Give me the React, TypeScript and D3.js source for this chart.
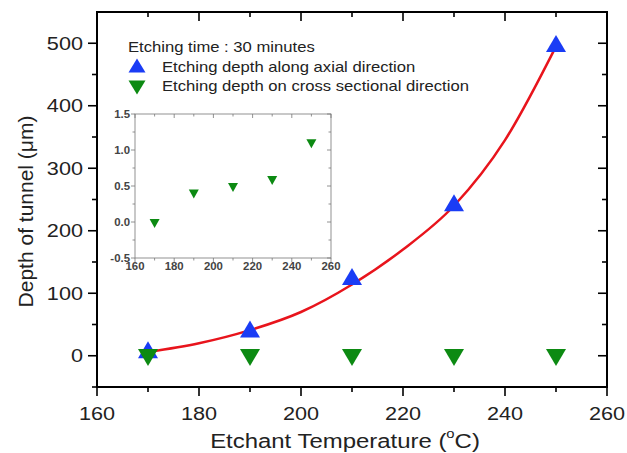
import React from "react";
import * as d3 from "d3";

const temps = [170, 190, 210, 230, 250];
const axialDepth = [7, 40, 124, 242, 497];
const crossDepth = [0, 0, 0, 0, 0];
const fitTemps = [170, 180, 190, 200, 210, 220, 230, 240, 250];
const fitDepth = [6, 20, 41, 70, 114, 170, 240, 345, 495];
const insetCross = [-0.01, 0.4, 0.49, 0.59, 1.1];
const xTicks = [160, 180, 200, 220, 240, 260];
const yTicks = [0, 100, 200, 300, 400, 500];
const insetYTicks = [-0.5, 0, 0.5, 1.0, 1.5];

const FONT = "Liberation Sans, Arial, sans-serif";
const BLUE = "#1a3cf5";
const GREEN = "#0c8a12";
const SX = 1.14;

function tri(cx: number, cy: number, w: number, h: number, up: boolean) {
  if (up) return `M${cx},${cy - h * 0.6}L${cx + w / 2},${cy + h * 0.4}L${cx - w / 2},${cy + h * 0.4}Z`;
  return `M${cx},${cy + h * 0.6}L${cx + w / 2},${cy - h * 0.4}L${cx - w / 2},${cy - h * 0.4}Z`;
}

function T(props: { x: number; y: number; anchor?: string; size: number; fill?: string; weight?: string; children: React.ReactNode }) {
  return (
    <g transform={`translate(${props.x},${props.y}) scale(${SX},1)`}>
      <text x={0} y={0} textAnchor={props.anchor || "start"} dominantBaseline="central" fontSize={props.size} fill={props.fill || "#222"} fontWeight={props.weight || "normal"}>
        {props.children}
      </text>
    </g>
  );
}

export default function App() {
  const W = 627, H = 453;
  const L = 97, R = 607, Tp = 12, B = 387;
  const x = d3.scaleLinear().domain([160, 260]).range([L, R]);
  const y = d3.scaleLinear().domain([-50, 550]).range([B, Tp]);
  const line = d3.line<number>().x((_, i) => x(fitTemps[i])).y((d) => y(d)).curve(d3.curveMonotoneX);

  const xMinor = d3.range(170, 260, 20);
  const yMinor = d3.range(-50, 550, 100);

  const iL = 135, iR = 331, iT = 114, iB = 258;
  const ix = d3.scaleLinear().domain([160, 260]).range([iL, iR]);
  const iy = d3.scaleLinear().domain([-0.5, 1.5]).range([iB, iT]);
  const ixMinor = d3.range(170, 260, 20);
  const iyMinor = d3.range(-0.25, 1.5, 0.5);

  const major = 9, minor = 5;
  const im = 4, imin = 2.5;

  return (
    <svg width={W} height={H} style={{ position: "absolute", left: 0, top: 0, background: "#fff" }} fontFamily={FONT}>
      <rect x={0} y={0} width={W} height={H} fill="#fff" />
      <g stroke="#000" strokeWidth={1.6}>
        {xTicks.map((t) => (
          <g key={"xt" + t}>
            <line x1={x(t)} x2={x(t)} y1={B} y2={B + major} />
            <line x1={x(t)} x2={x(t)} y1={Tp} y2={Tp + major} />
          </g>
        ))}
        {xMinor.map((t) => (
          <g key={"xm" + t}>
            <line x1={x(t)} x2={x(t)} y1={B} y2={B + minor} />
            <line x1={x(t)} x2={x(t)} y1={Tp} y2={Tp + minor} />
          </g>
        ))}
        {yTicks.map((t) => (
          <g key={"yt" + t}>
            <line x1={L - major} x2={L} y1={y(t)} y2={y(t)} />
            <line x1={R - major} x2={R} y1={y(t)} y2={y(t)} />
          </g>
        ))}
        {yMinor.map((t) => (
          <g key={"ym" + t}>
            <line x1={L - minor} x2={L} y1={y(t)} y2={y(t)} />
            <line x1={R - minor} x2={R} y1={y(t)} y2={y(t)} />
          </g>
        ))}
      </g>
      <rect x={L} y={Tp} width={R - L} height={B - Tp} fill="none" stroke="#000" strokeWidth={2} />

      {xTicks.map((t) => (
        <T key={"xl" + t} x={x(t)} y={413} anchor="middle" size={19}>{t}</T>
      ))}
      {yTicks.map((t) => (
        <T key={"yl" + t} x={L - 14} y={y(t)} anchor="end" size={19}>{t}</T>
      ))}
      <g transform={`translate(345,441) scale(${SX},1)`}>
        <text x={0} y={0} textAnchor="middle" dominantBaseline="central" fontSize={21} fill="#222">
          Etchant Temperature (<tspan fontSize={13} dy={-8}>o</tspan><tspan dy={8}>C)</tspan>
        </text>
      </g>
      <text transform={`translate(25,${(Tp + B) / 2 + 12}) rotate(-90)`} textAnchor="middle" dominantBaseline="central" fontSize={21} fill="#222">
        Depth of tunnel (μm)
      </text>

      <path d={line(fitDepth) || ""} fill="none" stroke="#e8141c" strokeWidth={2.5} />

      {temps.map((t, i) => (
        <path key={"a" + t} d={tri(x(t), y(axialDepth[i]), 20, 17, true)} fill={BLUE} />
      ))}
      {temps.map((t, i) => (
        <path key={"c" + t} d={tri(x(t), y(crossDepth[i]), 20, 17, false)} fill={GREEN} />
      ))}

      <T x={128} y={47} size={14.6}>Etching time : 30 minutes</T>
      <path d={tri(137, 67, 17, 14, true)} fill={BLUE} />
      <T x={162} y={67} size={14.6}>Etching depth along axial direction</T>
      <path d={tri(137, 86, 17, 14, false)} fill={GREEN} />
      <T x={162} y={86} size={14.6}>Etching depth on cross sectional direction</T>

      <g stroke="#777" strokeWidth={0.8}>
        {xTicks.map((t) => (
          <g key={"ixt" + t}>
            <line x1={ix(t)} x2={ix(t)} y1={iB} y2={iB + im} />
            <line x1={ix(t)} x2={ix(t)} y1={iT} y2={iT + im} />
          </g>
        ))}
        {ixMinor.map((t) => (
          <g key={"ixm" + t}>
            <line x1={ix(t)} x2={ix(t)} y1={iB} y2={iB + imin} />
            <line x1={ix(t)} x2={ix(t)} y1={iT} y2={iT + imin} />
          </g>
        ))}
        {insetYTicks.map((t) => (
          <g key={"iyt" + t}>
            <line x1={iL - im} x2={iL} y1={iy(t)} y2={iy(t)} />
            <line x1={iR - im} x2={iR} y1={iy(t)} y2={iy(t)} />
          </g>
        ))}
        {iyMinor.map((t) => (
          <g key={"iym" + t}>
            <line x1={iL - imin} x2={iL} y1={iy(t)} y2={iy(t)} />
            <line x1={iR - imin} x2={iR} y1={iy(t)} y2={iy(t)} />
          </g>
        ))}
        <rect x={iL} y={iT} width={iR - iL} height={iB - iT} fill="none" />
      </g>
      {xTicks.map((t) => (
        <T key={"ixl" + t} x={ix(t)} y={iB + 8} anchor="middle" size={10} fill="#444" weight="bold">{t}</T>
      ))}
      {insetYTicks.map((t) => (
        <T key={"iyl" + t} x={iL - 5} y={iy(t)} anchor="end" size={10} fill="#444" weight="bold">{t.toFixed(1)}</T>
      ))}
      {temps.map((t, i) => (
        <path key={"ic" + t} d={tri(ix(t), iy(insetCross[i]), 10, 9, false)} fill={GREEN} />
      ))}
    </svg>
  );
}
